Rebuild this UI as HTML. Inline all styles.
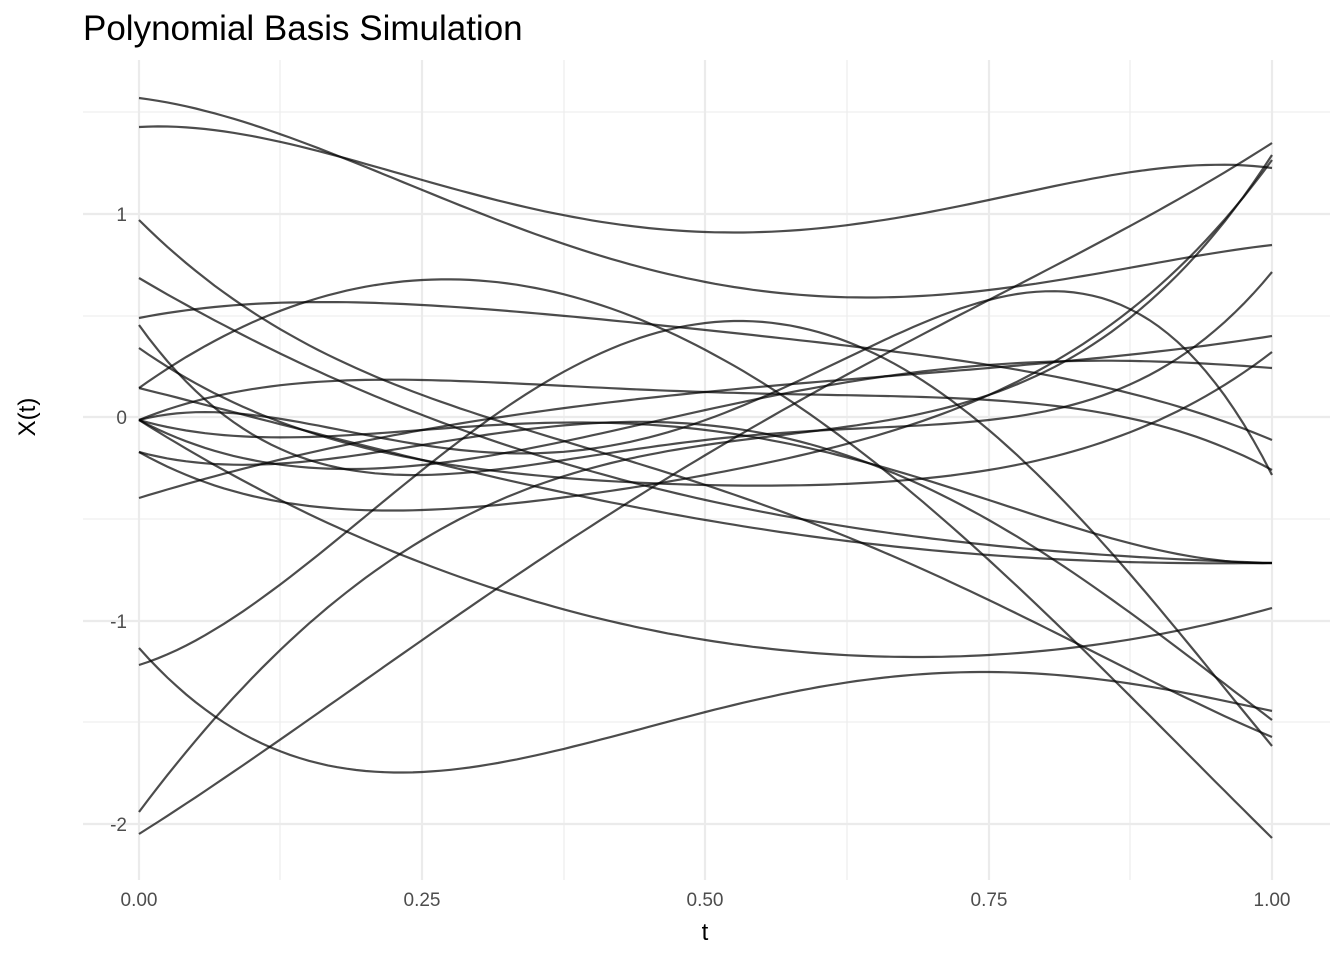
<!DOCTYPE html>
<html><head><meta charset="utf-8"><style>
body{margin:0;background:#fff}
svg{display:block;font-family:"Liberation Sans",sans-serif}
</style></head><body>
<svg id="s" width="1344" height="960" viewBox="0 0 1344 960">
<rect width="1344" height="960" fill="#fff"/>
<g stroke="#ebebeb" stroke-width="1.1" fill="none">
<line x1="280" y1="60" x2="280" y2="880"/><line x1="564" y1="60" x2="564" y2="880"/><line x1="847" y1="60" x2="847" y2="880"/><line x1="1130" y1="60" x2="1130" y2="880"/>
<line x1="83" y1="112" x2="1330" y2="112"/><line x1="83" y1="316" x2="1330" y2="316"/><line x1="83" y1="519" x2="1330" y2="519"/><line x1="83" y1="722" x2="1330" y2="722"/>
</g>
<g stroke="#ebebeb" stroke-width="2.2" fill="none">
<line x1="139" y1="60" x2="139" y2="880"/><line x1="422" y1="60" x2="422" y2="880"/><line x1="705" y1="60" x2="705" y2="880"/><line x1="989" y1="60" x2="989" y2="880"/><line x1="1272" y1="60" x2="1272" y2="880"/>
<line x1="83" y1="214" x2="1330" y2="214"/><line x1="83" y1="417" x2="1330" y2="417"/><line x1="83" y1="621" x2="1330" y2="621"/><line x1="83" y1="824" x2="1330" y2="824"/>
</g>
<g id="curves" stroke="#000" stroke-opacity="0.7" stroke-width="2.2" fill="none"></g>
<g fill="#4d4d4d" font-size="19" text-anchor="end">
<text x="127" y="221">1</text><text x="127" y="424">0</text><text x="127" y="628">-1</text><text x="127" y="831">-2</text>
</g>
<g fill="#4d4d4d" font-size="19" text-anchor="middle">
<text x="139" y="906">0.00</text><text x="422" y="906">0.25</text><text x="705" y="906">0.50</text><text x="989" y="906">0.75</text><text x="1272" y="906">1.00</text>
</g>
<text x="705" y="940" font-size="24" text-anchor="middle" fill="#000">t</text>
<text transform="translate(35,417) rotate(-90)" font-size="24" text-anchor="middle" fill="#000">X(t)</text>
<text x="83" y="40" font-size="35" fill="#000">Polynomial Basis Simulation</text>
</svg>
<script>
var C=[[98,190,282,290,245],[127,180,232,200,168],[834,640,455,300,143],[812,540,445,395,155],
[648,772,712,672,711],[665,470,323,430,746],[388,280,350,560,838],[220,395,485,600,737],
[278,415,500,545,563],[318,305,330,365,440],[420,380,392,400,470],[498,430,392,368,336],
[420,563,640,655,608],[452,510,475,395,160],[325,475,440,420,272],[348,460,485,470,352],
[420,430,430,500,563],[420,445,420,300,475],[388,460,520,555,563],[452,445,425,520,720],[420,465,410,365,368]];
var T=[0,.25,.5,.75,1],g=document.getElementById('curves'),h='';
C.forEach(function(v){var d='';for(var i=0;i<=120;i++){var t=i/120,y=0;
for(var j=0;j<5;j++){var l=1;for(var k=0;k<5;k++)if(k!=j)l*=(t-T[k])/(T[j]-T[k]);y+=l*v[j];}
d+=(i?'L':'M')+(139+1133*t).toFixed(1)+' '+y.toFixed(1);}
h+='<path d="'+d+'"/>';});
g.innerHTML=h;
</script>
</body></html>
